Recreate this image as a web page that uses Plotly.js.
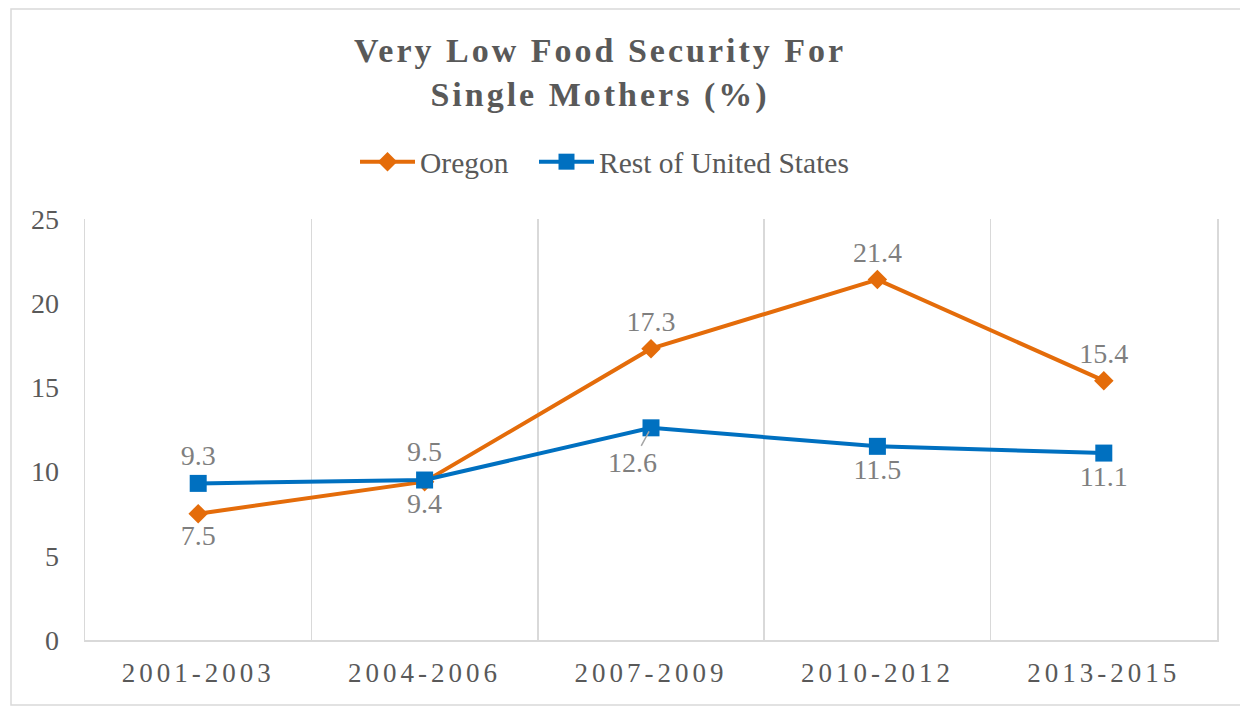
<!DOCTYPE html>
<html>
<head>
<meta charset="utf-8">
<script src="https://cdn.plot.ly/plotly-3.0.1.min.js"></script>
<style>
  html, body { margin: 0; padding: 0; background: #fff; }
  #chart { width: 1240px; height: 707px; }
  .gtitle { letter-spacing: 3px; }
  .xtick text { letter-spacing: 4px; }
</style>
</head>
<body>
<div id="chart"></div>
<script>
const periods = ["2001-2003", "2004-2006", "2007-2009", "2010-2012", "2013-2015"];
const oregon = [7.5, 9.4, 17.3, 21.4, 15.4];
const restOfUS = [9.3, 9.5, 12.6, 11.5, 11.1];
const oregonLabelPos = ["bottom center", "bottom center", "top center", "top center", "top center"];
const restLabelPos = ["top center", "top center", "bottom center", "bottom center", "bottom center"];
// index of the Rest-of-US label that Excel pulled away from its point with a leader line
const leaderIdx = 2;

const FONT = "Liberation Serif, Times New Roman, serif";
const ORANGE = "#E46C0A";
const BLUE = "#0070C0";
const LABEL_GREY = "#7F7F7F";
const TEXT_GREY = "#595959";
const GRID = "#D9D9D9";

const traces = [
  {
    type: "scatter", mode: "lines+markers+text", name: "Oregon", legend: "legend",
    x: periods, y: oregon,
    text: oregon.map(v => v.toFixed(1)),
    textposition: oregonLabelPos,
    textfont: { family: FONT, size: 28, color: LABEL_GREY },
    line: { color: ORANGE, width: 4 },
    marker: { symbol: "diamond", size: 15, color: ORANGE },
    cliponaxis: false, hoverinfo: "x+y"
  },
  {
    type: "scatter", mode: "lines+markers+text", name: "Rest of United States", legend: "legend2",
    x: periods, y: restOfUS,
    text: restOfUS.map((v, i) => i === leaderIdx ? "" : v.toFixed(1)),
    textposition: restLabelPos,
    textfont: { family: FONT, size: 28, color: LABEL_GREY },
    line: { color: BLUE, width: 4 },
    marker: { symbol: "square", size: 17, color: BLUE },
    cliponaxis: false, hoverinfo: "x+y"
  }
];

const plotL = 85, plotR = 1217, plotT = 219, plotB = 640;
const pw = plotR - plotL, ph = plotB - plotT;

const legendBase = {
  orientation: "h", xref: "container", yref: "container",
  xanchor: "left", y: 1 - 162 / 707, yanchor: "middle",
  font: { family: FONT, size: 29.5, color: TEXT_GREY },
  bgcolor: "rgba(0,0,0,0)", itemwidth: 55
};

const layout = {
  width: 1240, height: 707,
  margin: { l: plotL, r: 1240 - plotR, t: plotT, b: 707 - plotB },
  paper_bgcolor: "#fff", plot_bgcolor: "#fff",
  font: { family: FONT, color: TEXT_GREY, size: 28 },
  title: {
    text: "<b>Very Low Food Security For<br>Single Mothers (%)</b>",
    font: { family: FONT, size: 34, color: TEXT_GREY },
    x: 600 / 1240, xanchor: "center", xref: "container",
    y: 1 - 62 / 707, yanchor: "top", yref: "container"
  },
  showlegend: true,
  legend: Object.assign({}, legendBase, { x: 355 / 1240 }),
  legend2: Object.assign({}, legendBase, { x: 534 / 1240 }),
  xaxis: {
    type: "category", tickson: "boundaries", range: [-0.5, 4.5],
    showgrid: true, gridcolor: GRID, gridwidth: 1.5,
    showline: true, linecolor: GRID, linewidth: 1.5,
    ticks: "", ticklabelstandoff: 8,
    tickfont: { family: FONT, size: 27, color: TEXT_GREY },
    zeroline: false, fixedrange: true
  },
  yaxis: {
    range: [0, 25], dtick: 5, tick0: 0,
    showgrid: false, zeroline: false,
    showline: true, mirror: true, linecolor: GRID, linewidth: 1.5,
    ticks: "", ticklabelstandoff: 19,
    tickfont: { family: FONT, size: 28, color: TEXT_GREY },
    fixedrange: true
  },
  annotations: [
    {
      x: periods[leaderIdx], y: restOfUS[leaderIdx], xref: "x", yref: "y",
      text: restOfUS[leaderIdx].toFixed(1),
      font: { family: FONT, size: 28, color: LABEL_GREY },
      showarrow: true, arrowhead: 0, arrowwidth: 1.5, arrowcolor: "#A6A6A6",
      ax: -19, ay: 35, standoff: 4, startstandoff: 0
    }
  ],
  shapes: [
    {
      type: "rect", xref: "paper", yref: "paper",
      x0: (11 - plotL) / pw, x1: (1300 - plotL) / pw,
      y0: (plotB - 705) / ph, y1: (plotB - 9) / ph,
      line: { color: GRID, width: 1.5 }, fillcolor: "rgba(0,0,0,0)", layer: "below"
    }
  ]
};

Plotly.newPlot("chart", traces, layout, { displayModeBar: false, staticPlot: true });
</script>
</body>
</html>
